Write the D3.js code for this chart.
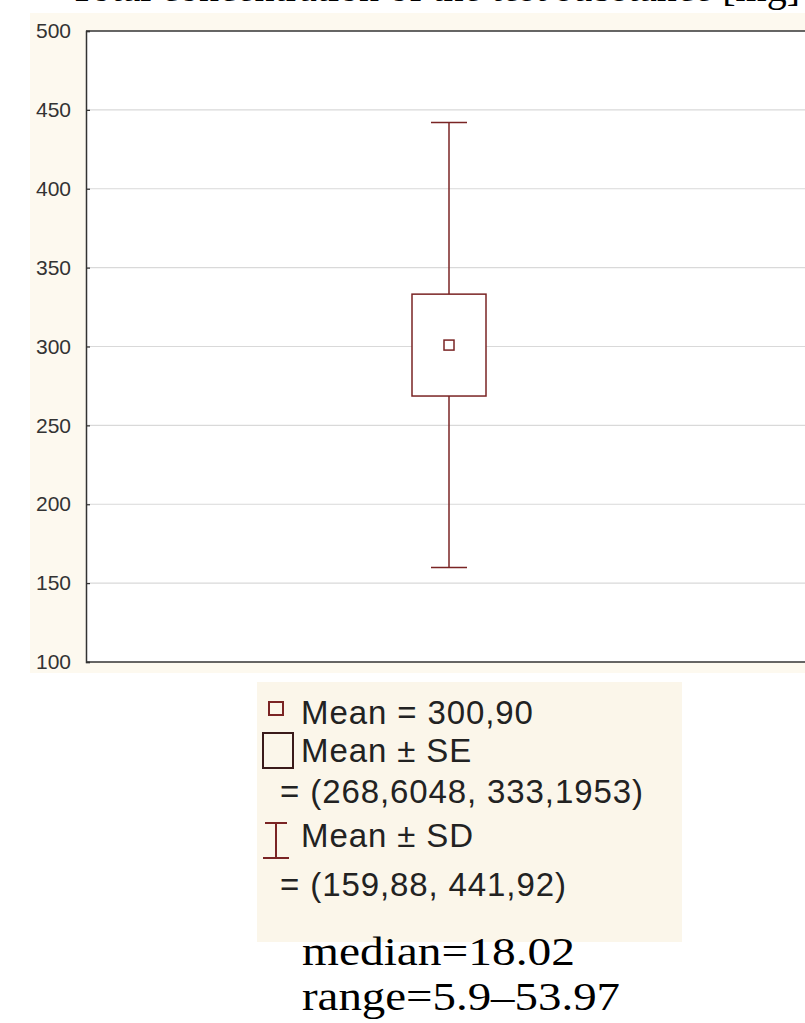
<!DOCTYPE html>
<html><head><meta charset="utf-8">
<script src="https://cdn.jsdelivr.net/npm/d3@7"></script>
<style>html,body{margin:0;padding:0;background:#fff;overflow:hidden}svg{display:block}</style>
</head><body>
<svg id="c" width="805" height="1023"></svg>
<script>
// ---- data ----
const categories = ["sample"];
const meanValues = [300.90];
const seLow = [268.6048];
const seHigh = [333.1953];
const sdLow = [159.88];
const sdHigh = [441.92];
const yTicks = [100, 150, 200, 250, 300, 350, 400, 450, 500];
const legendLabels = ["Mean = 300,90", "Mean \u00b1 SE", "= (268,6048, 333,1953)", "Mean \u00b1 SD", "= (159,88, 441,92)"];
const noteLabels = ["median=18.02", "range=5.9\u201353.97"];
const titleText = "Total concentration of the test substance [mg]";

(function () {
const svg = d3.select("#c");
const red = "#7a2424";

// cream panel
svg.append("rect").attr("x", 30).attr("y", 13).attr("width", 775).attr("height", 660).attr("fill", "#fdf9ef");

// clipped title (only bottom visible)
svg.append("text").attr("x", 800).attr("y", 1).attr("text-anchor", "end")
  .attr("font-family", "Liberation Serif, serif").attr("font-size", 40).attr("fill", "#000").text(titleText);

const pLeft = 86, pRight = 812, pTop = 31, pBottom = 662;
const y = d3.scaleLinear().domain([100, 500]).range([pBottom, pTop]);
const x = d3.scalePoint().domain(categories).range([pLeft, pRight]).padding(0.5);

// plot area
svg.append("rect").attr("x", pLeft).attr("y", pTop).attr("width", 805 - pLeft).attr("height", pBottom - pTop).attr("fill", "#fff");

// grid
svg.append("g").selectAll("line").data(yTicks.filter(t => t > 100 && t < 500)).join("line")
  .attr("x1", pLeft).attr("x2", 805).attr("y1", d => y(d)).attr("y2", d => y(d))
  .attr("stroke", "#d9d9d9").attr("stroke-width", 1.2);

// frame lines
svg.append("line").attr("x1", pLeft).attr("x2", 805).attr("y1", y(500)).attr("y2", y(500)).attr("stroke", "#333").attr("stroke-width", 1.5);
svg.append("line").attr("x1", pLeft).attr("x2", 805).attr("y1", y(100)).attr("y2", y(100)).attr("stroke", "#333").attr("stroke-width", 1.5);

// axis
const axis = d3.axisLeft(y).tickValues(yTicks).tickSize(-4).tickPadding(15);
const ag = svg.append("g").attr("transform", `translate(${pLeft},0)`).call(axis);
ag.select(".domain").attr("stroke", "#333").attr("stroke-width", 1.5);
ag.selectAll(".tick line").attr("stroke", "#333").attr("stroke-width", 1.2);
ag.selectAll(".tick text").attr("font-family", "Liberation Sans, Arial, sans-serif").attr("font-size", 21)
  .attr("fill", "#333");

// whiskers + box
const g = svg.append("g");
categories.forEach((c, i) => {
  const cx = x(c);
  g.append("line").attr("x1", cx).attr("x2", cx).attr("y1", y(sdHigh[i])).attr("y2", y(sdLow[i])).attr("stroke", red).attr("stroke-width", 1.5);
  [sdHigh[i], sdLow[i]].forEach(v => g.append("line").attr("x1", cx - 18).attr("x2", cx + 18).attr("y1", y(v)).attr("y2", y(v)).attr("stroke", red).attr("stroke-width", 1.5));
  g.append("rect").attr("x", cx - 37).attr("width", 74).attr("y", y(seHigh[i])).attr("height", y(seLow[i]) - y(seHigh[i]))
    .attr("fill", "#fff").attr("stroke", red).attr("stroke-width", 1.5);
  g.append("rect").attr("x", cx - 5).attr("width", 10).attr("y", y(meanValues[i]) - 5).attr("height", 10)
    .attr("fill", "#fff").attr("stroke", red).attr("stroke-width", 1.5);
});

// legend
const lg = svg.append("g");
lg.append("rect").attr("x", 257).attr("y", 682).attr("width", 425).attr("height", 260).attr("fill", "#fbf6ea");
const lf = "Liberation Sans, Arial, sans-serif";
const lpos = [[301, 724], [301, 762], [280, 803], [301, 847], [280, 896]];
legendLabels.forEach((t, i) => {
  lg.append("text").attr("x", lpos[i][0]).attr("y", lpos[i][1]).attr("font-family", lf).attr("font-size", 33)
    .attr("letter-spacing", 0.9).attr("fill", "#222").text(t);
});
// markers
lg.append("rect").attr("x", 269).attr("y", 702).attr("width", 14).attr("height", 13).attr("fill", "none").attr("stroke", red).attr("stroke-width", 2);
lg.append("rect").attr("x", 263).attr("y", 733).attr("width", 30).attr("height", 35).attr("fill", "none").attr("stroke", "#3a1a1a").attr("stroke-width", 2);
lg.append("line").attr("x1", 276).attr("x2", 276).attr("y1", 823).attr("y2", 858).attr("stroke", red).attr("stroke-width", 2);
lg.append("line").attr("x1", 265).attr("x2", 287).attr("y1", 823).attr("y2", 823).attr("stroke", red).attr("stroke-width", 2);
lg.append("line").attr("x1", 263).attr("x2", 289).attr("y1", 858).attr("y2", 858).attr("stroke", red).attr("stroke-width", 2);

// notes
const npos = [[965, 273], [1010, 318]];
noteLabels.forEach((t, i) => {
  svg.append("text").attr("x", 302).attr("y", npos[i][0]).attr("font-family", "Liberation Serif, serif").attr("font-size", 40)
    .attr("textLength", npos[i][1]).attr("lengthAdjust", "spacingAndGlyphs")
    .attr("fill", "#000").text(t);
});
})();
</script>
</body></html>
